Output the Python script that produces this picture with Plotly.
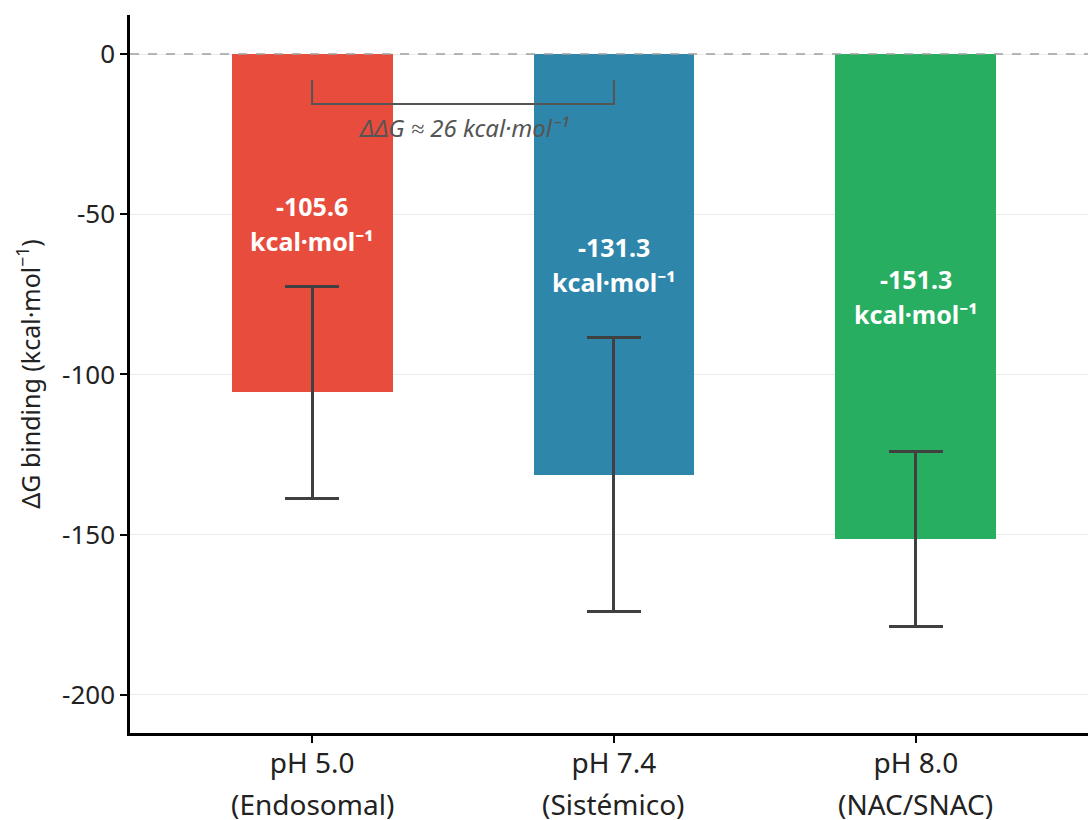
import plotly.graph_objects as go

categories = ["pH 5.0", "pH 7.4", "pH 8.0"]
subtitles = ["(Endosomal)", "(Sistémico)", "(NAC/SNAC)"]
dg_values = [-105.6, -131.3, -151.3]
dg_errors = [33.2, 42.7, 27.3]
colors = ["#E74C3C", "#2E86AB", "#27AE60"]
y_ticks = [0, -50, -100, -150, -200]

FONT = "Noto Sans"
xs = list(range(len(categories)))

fig = go.Figure()
fig.add_trace(go.Bar(
    x=xs, y=dg_values, width=0.533,
    marker=dict(color=colors, line=dict(width=0)),
    error_y=dict(type="data", array=dg_errors, visible=True,
                 color="#404040", thickness=3, width=27),
    showlegend=False, hoverinfo="skip",
))

# zero reference line
fig.add_shape(type="line", xref="paper", yref="y", x0=0, x1=1, y0=0, y1=0,
              line=dict(color="#a0a0a0", width=1.5, dash="dash"), layer="above")

# bar value labels (two lines)
for x, v in zip(xs, dg_values):
    fig.add_annotation(x=x, y=v / 2, text=f"<b>{v:.1f}</b>", showarrow=False,
                       font=dict(family=FONT, size=25, color="white"),
                       yshift=17, xanchor="center", yanchor="middle")
    fig.add_annotation(x=x, y=v / 2, text="<b>kcal·mol⁻¹</b>", showarrow=False,
                       font=dict(family=FONT, size=25, color="white"),
                       yshift=-18, xanchor="center", yanchor="middle")

# bracket between pH 5.0 and pH 7.4
fig.add_shape(type="path", xref="x", yref="y",
              path="M 0,-8 L 0,-15.6 L 1,-15.6 L 1,-8",
              line=dict(color="#555555", width=2), layer="above")
ddg = round(abs(dg_values[1] - dg_values[0]))
fig.add_annotation(x=0.5, y=-22.8, text=f"<i>ΔΔG ≈ {ddg} kcal·mol⁻¹</i>",
                   showarrow=False, font=dict(family=FONT, size=24, color="#555555"),
                   xanchor="center", yanchor="middle")

# second line of x labels
for x, s in zip(xs, subtitles):
    fig.add_annotation(x=x, xref="x", yref="paper", y=-0.099, text=s, showarrow=False,
                       font=dict(family=FONT, size=28, color="#222222"),
                       xanchor="center", yanchor="middle")

fig.update_layout(
    width=1088, height=820,
    margin=dict(l=130, r=0, t=15, b=87),
    paper_bgcolor="white", plot_bgcolor="white",
    font=dict(family=FONT, size=20, color="#222222"),
    xaxis=dict(range=[-0.603, 2.57], tickvals=xs, ticktext=categories,
               showgrid=False, zeroline=False,
               showline=True, linecolor="black", linewidth=2.5,
               ticks="outside", ticklen=7, tickwidth=2, tickcolor="black",
               ticklabelstandoff=-3,
               tickfont=dict(family=FONT, size=28, color="#222222")),
    yaxis=dict(range=[-211.9, 12.2], tickvals=y_ticks, ticktext=[str(t) for t in y_ticks],
               showgrid=True, gridcolor="#ebebeb", gridwidth=1, zeroline=False,
               showline=True, linecolor="black", linewidth=2.5,
               ticks="outside", ticklen=7, tickwidth=2, tickcolor="black",
               tickfont=dict(family=FONT, size=26, color="#222222"),
               title=dict(text="ΔG binding (kcal·mol<sup>−1</sup>)",
                          font=dict(family=FONT, size=25, color="#222222"), standoff=15)),
    bargap=0,
)

fig.write_html("out.html")
